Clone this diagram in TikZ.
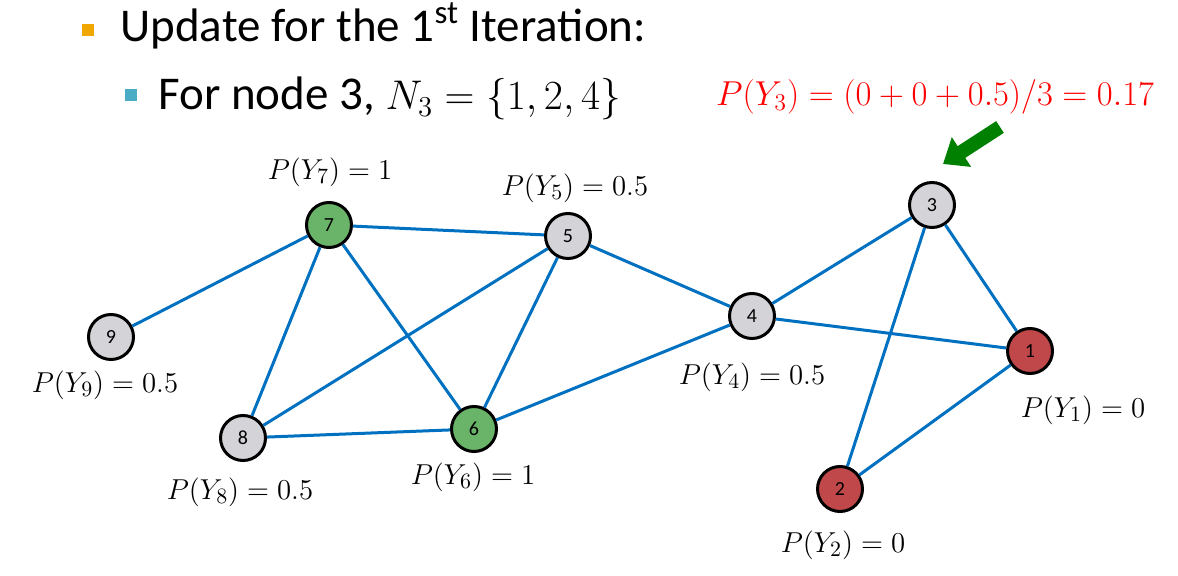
\documentclass[tikz,border=0pt]{standalone}
\usepackage{fontspec}
\setmainfont{Carlito}
\usetikzlibrary{arrows.meta}
\definecolor{edgeblue}{RGB}{0,112,192}
\definecolor{grayfill}{RGB}{212,212,216}
\definecolor{greenfill}{RGB}{106,180,106}
\definecolor{redfill}{RGB}{192,72,74}
\definecolor{arrowgreen}{RGB}{0,128,0}
\definecolor{bulletorange}{RGB}{240,168,0}
\definecolor{bulletblue}{RGB}{75,172,198}
\begin{document}
\begin{tikzpicture}[x=0.5pt,y=-0.5pt]
      \tikzstyle{vertex}=[draw,circle,line width=1.5pt,minimum size=22.5pt,inner sep=0pt,font=\fontsize{10}{12}\selectfont]
      \tikzstyle{edge}=[draw,line width=1.5pt,edgeblue]
      \tikzstyle{prob}=[font=\fontsize{15}{18}\selectfont]
      \tikzstyle{bullet}=[minimum size=6pt,inner sep=0pt]
      \tikzstyle{heading}=[anchor=base west,inner sep=0pt,font=\fontsize{23.5}{28}\selectfont]
      \useasboundingbox (0,0) rectangle (1178,576);
      % header
      \node[bullet,fill=bulletorange] (b1) at (88,30) {};
      \node[heading] (line1) at (120,42) {Update for the 1\textsuperscript{st} Iteration:};
      \node[bullet,fill=bulletblue] (b2) at (131,95) {};
      \node[heading] (line2) at (158,110) {For node 3, {\fontsize{22.5}{26}\selectfont$N_3=\{1,2,4\}$}};
      \node[red,prob,font=\fontsize{17}{20}\selectfont] (update) at (935,97) {$P(Y_3)=(0+0+0.5)/3=0.17$};
      % vertices
      \node[vertex,fill=redfill] (1) at (1030,351) {1};
      \node[vertex,fill=redfill] (2) at (840,489) {2};
      \node[vertex,fill=grayfill] (3) at (932,205) {3};
      \node[vertex,fill=grayfill] (4) at (752,316) {4};
      \node[vertex,fill=grayfill] (5) at (568,236) {5};
      \node[vertex,fill=greenfill] (6) at (474,429) {6};
      \node[vertex,fill=greenfill] (7) at (329,225) {7};
      \node[vertex,fill=grayfill] (8) at (243,438) {8};
      \node[vertex,fill=grayfill] (9) at (111,337) {9};
      % labels
      \node[prob] (p1) at (1083,410) {$P(Y_1)=0$};
      \node[prob] (p2) at (843,545) {$P(Y_2)=0$};
      \node[prob] (p4) at (752,377) {$P(Y_4)=0.5$};
      \node[prob] (p5) at (575,188) {$P(Y_5)=0.5$};
      \node[prob] (p6) at (473,477) {$P(Y_6)=1$};
      \node[prob] (p7) at (330,172) {$P(Y_7)=1$};
      \node[prob] (p8) at (240,492) {$P(Y_8)=0.5$};
      \node[prob] (p9) at (105,385) {$P(Y_9)=0.5$};
      % edges
      \path[edge] (7) -- (9);
      \path[edge] (7) -- (5);
      \path[edge] (7) -- (8);
      \path[edge] (7) -- (6);
      \path[edge] (5) -- (8);
      \path[edge] (5) -- (6);
      \path[edge] (5) -- (4);
      \path[edge] (6) -- (8);
      \path[edge] (6) -- (4);
      \path[edge] (4) -- (3);
      \path[edge] (4) -- (1);
      \path[edge] (3) -- (1);
      \path[edge] (3) -- (2);
      \path[edge] (2) -- (1);
      % pointer
      \coordinate (tail) at (1000,127);
      \coordinate (tip) at (943,164);
      \draw[arrowgreen,line width=7pt,-{Triangle[length=11pt,width=17pt]}] (tail) -- (tip);
\end{tikzpicture}
\end{document}
